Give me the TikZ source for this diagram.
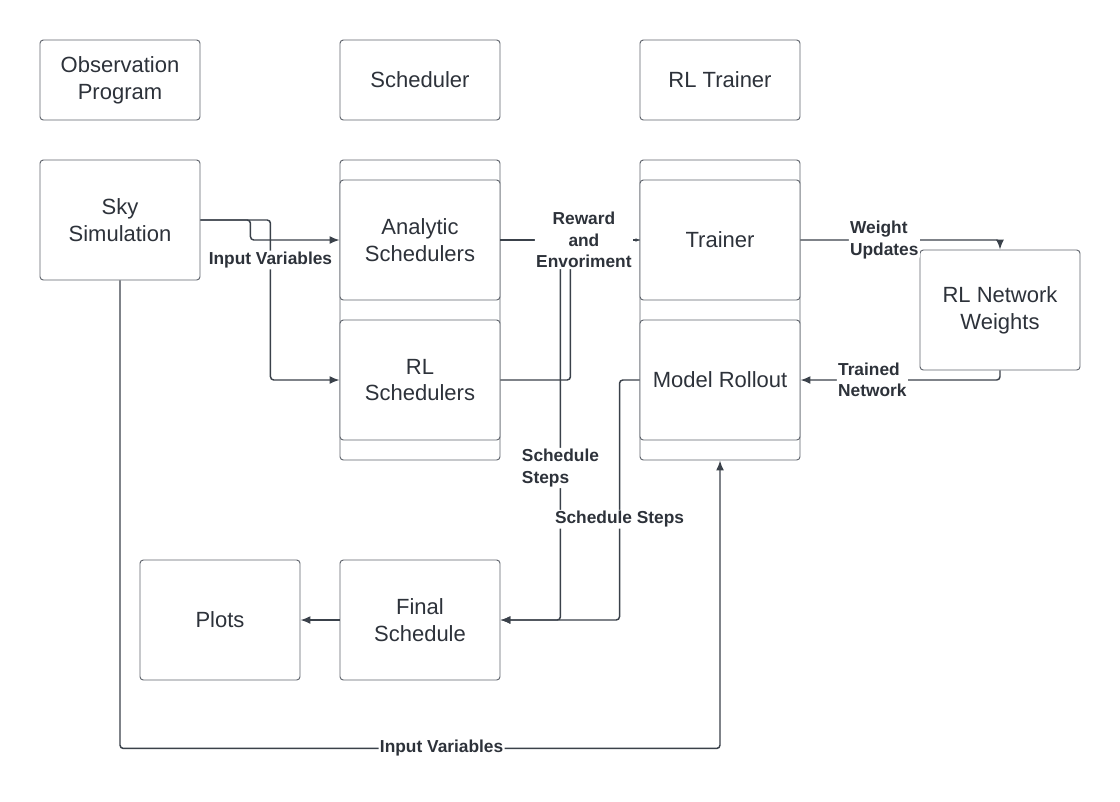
\documentclass[tikz,border=0pt]{standalone}
\usepackage{fontspec}
\setmainfont{Liberation Sans}
\usetikzlibrary{arrows.meta}
\definecolor{boxgray}{RGB}{95,100,108}
\definecolor{linegray}{RGB}{58,65,74}
\definecolor{textdark}{RGB}{45,50,58}
\begin{document}
\begin{tikzpicture}[x=0.75pt, y=-0.75pt,
			>={Latex[length=7.5pt,width=6pt]},   % Pfeilspitzen
			box/.style={draw=boxgray, line width=0.7pt, rounded corners=2.5pt, fill=white, text=textdark,
				minimum width=120pt, minimum height=#1, align=center,
				font=\fontsize{16.5}{20}\selectfont},
			box/.default=60pt,
			conn/.style={draw=linegray, line width=1.1pt, rounded corners=2.5pt},
			lbl/.style={fill=white, text=textdark, inner sep=1pt, align=center,
				font=\bfseries\fontsize{13}{16}\selectfont}]
			\useasboundingbox (0,0) rectangle (1120,801);
			% Kopfzeile
			\node[box] (obs) at (120,80) {Observation\\Program};
			\node[box] (sched) at (420,80) {Scheduler};
			\node[box] (rltrain) at (720,80) {RL Trainer};
			% Stapel
			\node[box=225pt] (schedstack) at (420,310) {};
			\node[box=225pt] (trainstack) at (720,310) {};
			\node[box=90pt] (sky) at (120,220) {Sky\\Simulation};
			\node[box=90pt] (analytic) at (420,240) {Analytic\\Schedulers};
			\node[box=90pt] (rlsched) at (420,380) {RL\\Schedulers};
			\node[box=90pt] (trainer) at (720,240) {Trainer};
			\node[box=90pt] (rollout) at (720,380) {Model Rollout};
			\node[box=90pt] (weights) at (1000,310) {RL Network\\Weights};
			\node[box=90pt] (plots) at (220,620) {Plots};
			\node[box=90pt] (final) at (420,620) {Final\\Schedule};
			% Verbindungen
			\draw[conn,->] (sky.east) -- ++(50,0) |- (analytic.west);
			\draw[conn,->] (sky.east) -- ++(70,0) |- (rlsched.west)
				node[lbl, pos=0.125] {Input Variables};
			\draw[conn] (rlsched.east) -- ++(70,0) |- (trainer.west);
			\draw[conn,->] (analytic.east) -- ++(60,0) |- (final.east)
				node[lbl, pos=0.3, align=left] {Schedule\\Steps};
			\draw[conn,-{Latex[length=3pt,width=3pt]}] (analytic.east) -- (trainer.west)
				node[lbl, pos=0.6] {Reward\\and\\Envoriment};
			\draw[conn,->] (rollout.west) -- ++(-20,0) |- (final.east)
				node[lbl, pos=0.29] {Schedule Steps};
			\draw[conn,->] (trainer.east) -| (weights.north)
				node[lbl, pos=0.21, align=left] {Weight\\Updates};
			\draw[conn,->] (weights.south) |- (rollout.east)
				node[lbl, pos=0.82, align=left] {Trained\\Network};
			\draw[conn,->] (final.west) -- (plots.east);
			\draw[conn,->] (sky.south) -- ++(0,468) -| (trainstack.south)
				node[lbl, pos=0.268] {Input Variables};
		\end{tikzpicture}
\end{document}
